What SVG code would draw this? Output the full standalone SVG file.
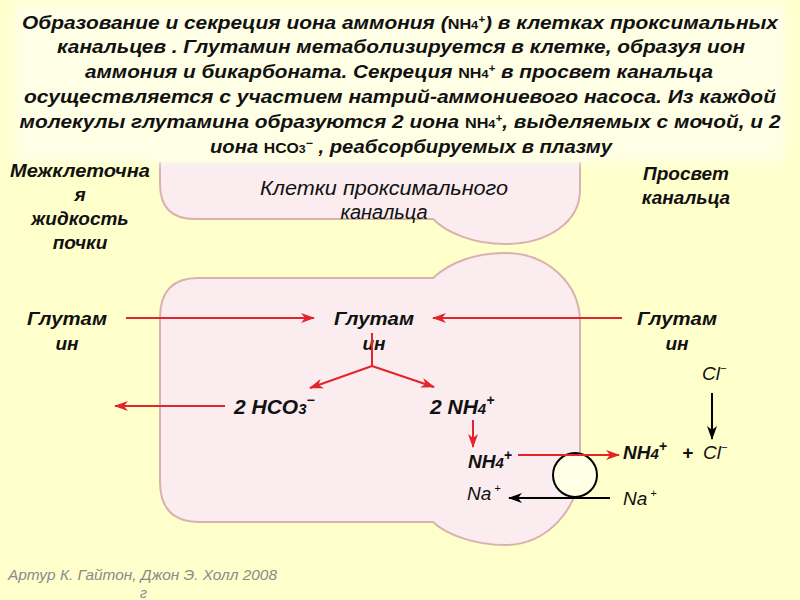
<svg xmlns="http://www.w3.org/2000/svg" width="800" height="600" viewBox="0 0 800 600">
<defs>
<style>
.t{font-family:"Liberation Sans",Arial,sans-serif;font-weight:bold;font-style:italic;fill:#111}
.ti{font-family:"Liberation Sans",Arial,sans-serif;font-style:italic;fill:#111}
.cell{fill:#FAECEF;stroke:#D8B2AE;stroke-width:2}
.red{stroke:#E3242B;stroke-width:2;fill:none}
.blk{stroke:#000;stroke-width:2;fill:none}
.foot{font-family:"Liberation Sans",Arial,sans-serif;font-style:italic;fill:#8A8A8A;font-size:14px}
</style>
<filter id="soft" x="-5%" y="-10%" width="110%" height="120%">
<feGaussianBlur stdDeviation="5"/>
</filter>
<marker id="ar" markerUnits="userSpaceOnUse" markerWidth="14" markerHeight="10" refX="13" refY="5" orient="auto">
<path d="M0,0 L14,5 L0,10 L4,5 Z" fill="#E3242B"/>
</marker>
<marker id="ab" markerUnits="userSpaceOnUse" markerWidth="14" markerHeight="10" refX="13" refY="5" orient="auto">
<path d="M0,0 L14,5 L0,10 L4,5 Z" fill="#000"/>
</marker>
</defs>
<rect width="800" height="600" fill="#FFFFCC"/>

<g id="cell-upper">
<path class="cell" d="M160,120 L580,120 L580,190 C580,222 548,244 505,244 C472,244 446,232 433,219 L195,219 Q160,219 160,184 Z"/>
</g>
<g id="cell-lower">
<path class="cell" d="M198,278 L433,278 C450,262 476,253 505,253 C548,253 580,284 580,322 L580,465 C580,510 546,545 505,545 C475,545 447,535 433,522 L200,522 Q160,522 160,482 L160,318 Q160,278 198,278 Z"/>
</g>

<g id="title">
<rect x="14" y="4" width="772" height="158" fill="#FFFFE6" filter="url(#soft)"/>
<rect x="150" y="130" width="440" height="32" fill="#FFFFE6"/>
<text class="t" font-size="18" x="400" y="29" text-anchor="middle" textLength="756" lengthAdjust="spacingAndGlyphs">Образование и секреция иона аммония (<tspan font-style="normal" font-size="14">NH</tspan><tspan font-style="normal" font-size="11">4</tspan><tspan font-size="10" dy="-6">+</tspan><tspan dy="6">) в клетках проксимальных</tspan></text>
<text class="t" font-size="18" x="401" y="53" text-anchor="middle" textLength="688" lengthAdjust="spacingAndGlyphs">канальцев . Глутамин метаболизируется в клетке, образуя ион</text>
<text class="t" font-size="18" x="399" y="78" text-anchor="middle" textLength="628" lengthAdjust="spacingAndGlyphs">аммония и бикарбоната. Секреция <tspan font-style="normal" font-size="14">NH</tspan><tspan font-style="normal" font-size="11">4</tspan><tspan font-size="10" dy="-6">+</tspan><tspan dy="6"> в просвет канальца</tspan></text>
<text class="t" font-size="18" x="400" y="103" text-anchor="middle" textLength="752" lengthAdjust="spacingAndGlyphs">осуществляется с участием натрий-аммониевого насоса. Из каждой</text>
<text class="t" font-size="18" x="400" y="128" text-anchor="middle" textLength="761" lengthAdjust="spacingAndGlyphs">молекулы глутамина образуются 2 иона <tspan font-style="normal" font-size="14">NH</tspan><tspan font-style="normal" font-size="11">4</tspan><tspan font-size="10" dy="-6">+</tspan><tspan dy="6">, выделяемых с мочой, и 2</tspan></text>
<text class="t" font-size="18" x="411" y="153" text-anchor="middle" textLength="402" lengthAdjust="spacingAndGlyphs">иона <tspan font-style="normal" font-size="14">HCO</tspan><tspan font-style="normal" font-size="11">3</tspan><tspan font-size="11" dy="-6">−</tspan><tspan dy="6"> ,  реабсорбируемых в плазму</tspan></text>
</g>

<g id="label-interstitial">
<text class="t" font-size="19" text-anchor="middle"><tspan x="80" y="177" textLength="140" lengthAdjust="spacingAndGlyphs">Межклеточна</tspan><tspan x="80" y="201">я</tspan><tspan x="80" y="225">жидкость</tspan><tspan x="80" y="249">почки</tspan></text>
</g>
<g id="label-lumen">
<text class="t" font-size="19" text-anchor="middle"><tspan x="686" y="180">Просвет</tspan><tspan x="686" y="204">канальца</tspan></text>
</g>
<g id="label-cells">
<text class="ti" font-size="20" text-anchor="middle" fill="#222"><tspan x="384" y="195" textLength="248" lengthAdjust="spacingAndGlyphs">Клетки проксимального</tspan><tspan x="384" y="219">канальца</tspan></text>
</g>

<g id="glut-left"><text class="t" font-size="19" text-anchor="middle"><tspan x="67" y="325" textLength="80" lengthAdjust="spacingAndGlyphs">Глутам</tspan><tspan x="67" y="350">ин</tspan></text></g>
<g id="glut-mid"><text class="t" font-size="19" text-anchor="middle"><tspan x="374" y="325" textLength="80" lengthAdjust="spacingAndGlyphs">Глутам</tspan><tspan x="374" y="350">ин</tspan></text></g>
<g id="glut-right"><text class="t" font-size="19" text-anchor="middle"><tspan x="677" y="325" textLength="80" lengthAdjust="spacingAndGlyphs">Глутам</tspan><tspan x="677" y="350">ин</tspan></text></g>

<g id="hco3"><text class="t" font-size="21" x="234" y="414">2 HCO<tspan font-size="15">3</tspan><tspan font-size="14" dy="-9">−</tspan></text></g>
<g id="nh4-2"><text class="t" font-size="21" x="430" y="414">2 NH<tspan font-size="15">4</tspan><tspan font-size="14" dy="-9">+</tspan></text></g>
<g id="nh4-cell"><text class="t" font-size="19" x="468" y="468">NH<tspan font-size="15">4</tspan><tspan font-size="14" dy="-8">+</tspan></text></g>
<g id="na-cell"><text class="ti" font-size="19" x="467" y="500">Na<tspan font-size="11" dy="-8"> +</tspan></text></g>
<g id="nh4-lumen">
<text class="t" font-size="19" x="623" y="459">NH<tspan font-size="15">4</tspan><tspan font-size="14" dy="-8">+</tspan></text>
<text class="t" font-size="19" x="682" y="459">+</text>
<text class="ti" font-size="19" x="703" y="459">Cl<tspan font-size="11" dy="-8">−</tspan></text>
</g>
<g id="na-lumen"><text class="ti" font-size="19" x="623" y="505">Na<tspan font-size="11" dy="-8"> +</tspan></text></g>
<g id="cl-lumen"><text class="ti" font-size="19" x="702" y="380">Cl<tspan font-size="11" dy="-8">−</tspan></text></g>

<g id="pump">
<circle cx="575" cy="475" r="22" fill="#FFFFE6" stroke="#000" stroke-width="2"/>
</g>

<g id="connectors">
<line class="red" x1="126" y1="318" x2="314" y2="318" marker-end="url(#ar)"/>
<line class="red" x1="622" y1="318" x2="433" y2="318" marker-end="url(#ar)"/>
<polyline class="red" points="372,333 372,366"/>
<line class="red" x1="372" y1="366" x2="310" y2="388" marker-end="url(#ar)"/>
<line class="red" x1="372" y1="366" x2="434" y2="387" marker-end="url(#ar)"/>
<line class="red" x1="225" y1="406" x2="115" y2="406" marker-end="url(#ar)"/>
<line class="red" x1="473" y1="420" x2="473" y2="447" marker-end="url(#ar)"/>
<line class="red" x1="518" y1="455" x2="619" y2="455" marker-end="url(#ar)"/>
<line class="blk" x1="610" y1="498" x2="509" y2="498" marker-end="url(#ab)"/>
<line class="blk" x1="712" y1="393" x2="712" y2="439" marker-end="url(#ab)"/>
</g>

<g id="footer">
<text class="foot" x="8" y="580" textLength="269" lengthAdjust="spacingAndGlyphs">Артур К. Гайтон,  Джон Э. Холл  2008</text>
<text class="foot" x="140" y="598">г</text>
</g>
</svg>
